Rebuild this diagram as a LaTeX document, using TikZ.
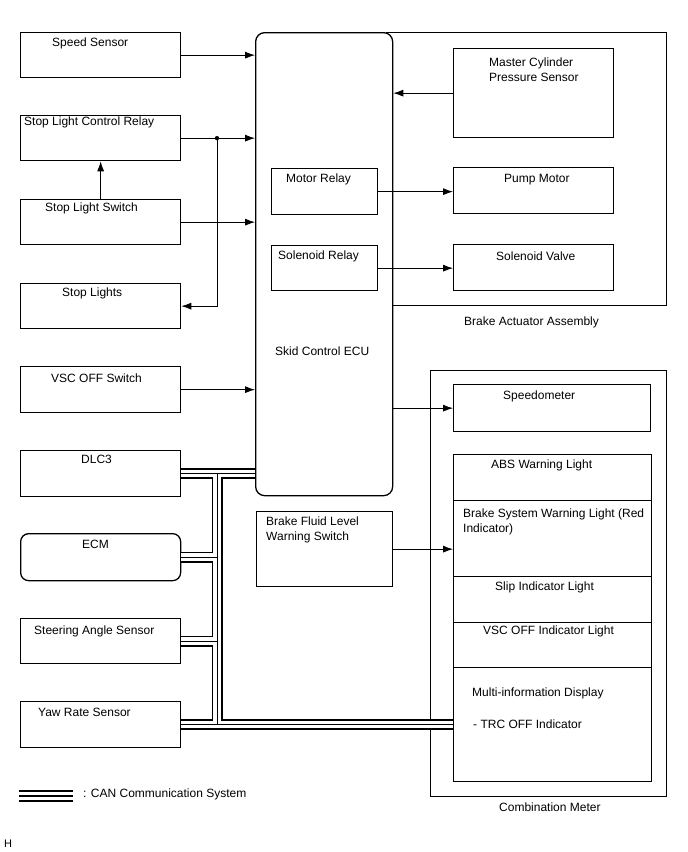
\documentclass[tikz,border=0pt]{standalone}
\usepackage{fontspec}
\setmainfont{Liberation Sans}
\usetikzlibrary{arrows.meta, positioning, calc}

\begin{document}
\begin{tikzpicture}[x=1pt, y=-1pt, >={Latex[length=10pt, width=7pt]},
  blk/.style={draw, line width=1.3pt, inner sep=0pt, anchor=north west, fill=white},
  lbl/.style={anchor=base west, inner sep=0pt, font=\fontsize{12pt}{15pt}\selectfont},
  lbltwo/.style={anchor=north west, inner sep=0pt, align=left, font=\fontsize{12pt}{15pt}\selectfont},
  arr/.style={->, line width=0.8pt}]
  \useasboundingbox (0,0) rectangle (688,852);

  % outer assemblies
  \node[blk, minimum width=280pt, minimum height=273pt] (act) at (386,32) {};
  \node[lbl] (actT) at (464,325) {Brake Actuator Assembly};
  \node[blk, minimum width=236pt, minimum height=426pt] (meter) at (430,370) {};
  \node[lbl] (meterT) at (499,811.3) {Combination Meter};

  % skid control ECU
  \node[blk, rounded corners=9pt, minimum width=137pt, minimum height=463pt] (ecu) at (255,32) {};
  \node[lbl] (ecuT) at (275,355.3) {Skid Control ECU};
  \node[blk, minimum width=106pt, minimum height=46pt] (mrel) at (271,168) {};
  \node[lbl] (mrelT) at (286,182.6) {Motor Relay};
  \node[blk, minimum width=106pt, minimum height=45pt] (srel) at (271,245) {};
  \node[lbl] (srelT) at (278,259.3) {Solenoid Relay};

  % left column
  \node[blk, minimum width=160pt, minimum height=45pt] (speed) at (20,32) {};
  \node[lbl] (speedT) at (52,46) {Speed Sensor};
  \node[blk, minimum width=160pt, minimum height=45pt] (slcr) at (20,115) {};
  \node[lbl] (slcrT) at (24,125.6) {Stop Light Control Relay};
  \node[blk, minimum width=160pt, minimum height=45pt] (sls) at (20,199) {};
  \node[lbl] (slsT) at (45,211) {Stop Light Switch};
  \node[blk, minimum width=160pt, minimum height=45pt] (lights) at (20,283) {};
  \node[lbl] (lightsT) at (62,296.6) {Stop Lights};
  \node[blk, minimum width=160pt, minimum height=46pt] (vsc) at (20,366) {};
  \node[lbl] (vscT) at (51,382) {VSC OFF Switch};
  \node[blk, minimum width=160pt, minimum height=46pt] (dlc) at (20,450) {};
  \node[lbl] (dlcT) at (81,463.6) {DLC3};
  \node[blk, rounded corners=8pt, minimum width=160pt, minimum height=47pt] (ecm) at (20,533) {};
  \node[lbl] (ecmT) at (82,548.6) {ECM};
  \node[blk, minimum width=160pt, minimum height=45pt] (steer) at (20,618) {};
  \node[lbl] (steerT) at (34,634.6) {Steering Angle Sensor};
  \node[blk, minimum width=160pt, minimum height=46pt] (yaw) at (20,701) {};
  \node[lbl] (yawT) at (38,716.6) {Yaw Rate Sensor};

  % actuator parts
  \node[blk, minimum width=160pt, minimum height=89pt] (mcyl) at (453,48) {};
  \node[lbltwo] (mcylT) at (489,57.4) {Master Cylinder\\Pressure Sensor};
  \node[blk, minimum width=160pt, minimum height=46pt] (pump) at (453,167) {};
  \node[lbl] (pumpT) at (504,182) {Pump Motor};
  \node[blk, minimum width=160pt, minimum height=46pt] (sval) at (453,244) {};
  \node[lbl] (svalT) at (496,260.5) {Solenoid Valve};

  \node[blk, minimum width=136pt, minimum height=75pt] (fluid) at (256,511) {};
  \node[lbltwo] (fluidT) at (266,516.8) {Brake Fluid Level\\Warning Switch};

  % meter parts
  \node[blk, minimum width=197pt, minimum height=47pt] (spdo) at (453,384) {};
  \node[lbl] (spdoT) at (503,399.3) {Speedometer};
  \node[blk, minimum width=198pt, minimum height=46pt] (abs) at (453,454) {};
  \node[lbl] (absT) at (491,468) {ABS Warning Light};
  \node[blk, minimum width=198pt, minimum height=76pt] (brk) at (453,500) {};
  \node[lbltwo] (brkT) at (463,508.2) {Brake System Warning Light (Red\\Indicator)};
  \node[blk, minimum width=198pt, minimum height=46pt] (slip) at (453,576) {};
  \node[lbl] (slipT) at (495,590.3) {Slip Indicator Light};
  \node[blk, minimum width=198pt, minimum height=45pt] (vind) at (453,622) {};
  \node[lbl] (vindT) at (483,634.6) {VSC OFF Indicator Light};
  \node[blk, minimum width=198pt, minimum height=114pt] (multi) at (453,667) {};
  \node[lbl] (multiT) at (472,696) {Multi-information Display};
  \node[lbl] (trcT) at (473,728.6) {- TRC OFF Indicator};

  % signal lines
  \coordinate (trunk) at (217,0);
  \draw[arr] (speed.east) -- (speed.east -| ecu.west);
  \draw[arr] (slcr.east) -- (slcr.east -| ecu.west);
  \draw[arr] (sls.east) -- (sls.east -| ecu.west);
  \draw[arr] (sls.north) -- (slcr.south);
  \draw[arr] (trunk |- slcr.east) -- (trunk |- lights.east) -- (lights.east);
  \fill (trunk |- slcr.east) circle (2.2pt);
  \draw[arr] (vsc.east) -- (vsc.east -| ecu.west);
  \draw[arr] (mcyl.west) -- (mcyl.west -| ecu.east);
  \draw[arr] (mrel.east) -- (mrel.east -| pump.west);
  \draw[arr] (srel.east) -- (srel.east -| sval.west);
  \draw[arr] (spdo.west -| ecu.east) -- (spdo.west);
  \draw[arr] (fluid.east) -- (fluid.east -| brk.west);

  % CAN bus
  \foreach \w/\c in {11/black, 7.4/white, 1/black}
    \draw[line width=\w pt, draw=\c]
      (dlc.east) -- (dlc.east -| ecu.west)
      (trunk |- dlc.east) -- (trunk |- yaw.east)
      (ecm.east) -- (trunk |- ecm.east)
      (steer.east) -- (trunk |- steer.east)
      (yaw.east) -- (yaw.east -| multi.west);

  % legend
  \coordinate (canA) at (19,796);
  \coordinate (canB) at (73,796);
  \foreach \w/\c in {12/black, 7.4/white, 2/black}
    \draw[line width=\w pt, draw=\c] (canA) -- (canB);
  \node[lbl] (canT) at (83,797.6) {: CAN Communication System};
  \node[lbl, font=\fontsize{11pt}{13pt}\selectfont] (hT) at (4,847.5) {H};
\end{tikzpicture}
\end{document}
